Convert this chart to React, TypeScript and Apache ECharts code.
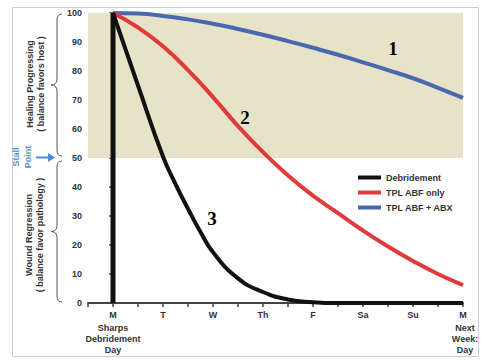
import React, { useEffect, useRef } from "react";
import * as echarts from "echarts";

const dayLabels = ["M", "T", "W", "Th", "F", "Sa", "Su", "M"];
const halfDays = [0, 0.5, 1, 1.5, 2, 2.5, 3, 3.5, 4, 4.5, 5, 5.5, 6, 6.5, 7];
const blueValues = [100, 99.8, 99, 97.8, 96.3, 94.5, 92.5, 90.3, 88, 85.6, 83, 80.3, 77.5, 74.2, 70.7];
const redValues = [100, 95, 88.5, 80.3, 71, 61, 52, 44, 37, 31, 25, 19.5, 14.5, 10, 6.2];
const blackDays = [0, 0.5, 1, 1.25, 1.5, 1.75, 2, 2.5, 3, 3.5, 4, 4.5, 5, 6, 7];
const blackValues = [100, 75, 50.5, 41, 32.5, 24.5, 17.5, 8.5, 3.8, 1.2, 0.3, 0, 0, 0, 0];
const seriesNames = ["Debridement", "TPL ABF only", "TPL ABF + ABX"];
const yTicks = [0, 10, 20, 30, 40, 50, 60, 70, 80, 90, 100];

function bracePath(xs: number, y0: number, y1: number): string {
  const xr = xs + 5;
  const tip = xs - 6;
  const ym = (y0 + y1) / 2;
  const r = 6;
  return `M${xr},${y0} Q${xs},${y0} ${xs},${y0 + r} L${xs},${ym - r} Q${xs},${ym} ${tip},${ym} Q${xs},${ym} ${xs},${ym + r} L${xs},${y1 - r} Q${xs},${y1} ${xr},${y1}`;
}

echarts.graphic.registerShape("braceTop", echarts.graphic.extendPath(bracePath(57, 14, 156), {}));
echarts.graphic.registerShape("braceBottom", echarts.graphic.extendPath(bracePath(57, 161, 302), {}));

const FONT = "'Liberation Sans', Arial, sans-serif";

export default function App() {
  const ref = useRef<HTMLDivElement>(null);
  useEffect(() => {
    document.body.style.margin = "0";
    if (!ref.current) return;
    const chart = echarts.init(ref.current, null, { renderer: "svg" });
    const zip = (xs: number[], ys: number[]) => xs.map((x, i) => [x, ys[i]]);
    const txt = { fontFamily: FONT, fontWeight: "bold" as const, fontSize: 9, fill: "#333" };
    chart.setOption({
      animation: false,
      backgroundColor: "#fff",
      grid: { left: 88, right: 26, top: 13, bottom: 58, containLabel: false },
      xAxis: {
        type: "value",
        min: -0.5,
        max: 7,
        interval: 0.5,
        splitLine: { show: false },
        axisLine: { show: true, lineStyle: { color: "#444", width: 2 } },
        axisTick: { show: true, length: 4, lineStyle: { color: "#444", width: 1.5 } },
        axisLabel: {
          showMaxLabel: true,
          showMinLabel: true,
          margin: 7,
          fontFamily: FONT,
          fontWeight: "bold",
          fontSize: 9,
          color: "#333",
          formatter: (v: number) => (Number.isInteger(v) && v >= 0 ? dayLabels[v] : ""),
        },
      },
      yAxis: {
        type: "value",
        min: 0,
        max: 100,
        interval: 10,
        splitLine: { show: false },
        axisLine: { show: true, lineStyle: { color: "#444", width: 2 } },
        axisTick: { show: true, length: 4, lineStyle: { color: "#444", width: 1.5 } },
        axisLabel: {
          margin: 6,
          fontFamily: FONT,
          fontWeight: "bold",
          fontSize: 9,
          color: "#333",
          formatter: (v: number) => (yTicks.includes(v) ? String(v) : ""),
        },
      },
      legend: {
        data: seriesNames,
        orient: "vertical",
        left: 353,
        top: 168,
        icon: "rect",
        itemWidth: 23,
        itemHeight: 4,
        itemGap: 6,
        textStyle: { fontFamily: FONT, fontWeight: "bold", fontSize: 9, color: "#333" },
      },
      series: [
        {
          name: "TPL ABF + ABX",
          type: "line",
          data: zip(halfDays, blueValues),
          smooth: true,
          symbol: "none",
          color: "#4a68b0",
          lineStyle: { width: 4, color: "#4a68b0" },
          markArea: {
            silent: true,
            itemStyle: { color: "#e7e3c8" },
            data: [[{ yAxis: 50 }, { yAxis: 100 }]],
          },
          z: 3,
        },
        {
          name: "TPL ABF only",
          type: "line",
          data: zip(halfDays, redValues),
          smooth: true,
          symbol: "none",
          color: "#e23a3a",
          lineStyle: { width: 4, color: "#e23a3a" },
          z: 4,
        },
        {
          name: "Debridement",
          type: "line",
          data: zip(blackDays, blackValues),
          smooth: true,
          symbol: "none",
          color: "#111",
          lineStyle: { width: 4, color: "#111" },
          z: 5,
        },
        {
          name: "debridementDay",
          type: "line",
          data: [[0, 0], [0, 100]],
          symbol: "none",
          color: "#111",
          lineStyle: { width: 5, color: "#111" },
          z: 6,
        },
      ],
      graphic: [
        { type: "rect", silent: true, shape: { x: 12.5, y: 7.5, width: 466, height: 349 }, style: { fill: "none", stroke: "#c9cfdb", lineWidth: 1 } },
        { type: "braceTop", x: 0, y: 0, style: { fill: "none", stroke: "#555", lineWidth: 1 } },
        { type: "braceBottom", x: 0, y: 0, style: { fill: "none", stroke: "#555", lineWidth: 1 } },
        {
          type: "text", x: 35.5, y: 84, rotation: Math.PI / 2,
          style: { ...txt, text: "Healing Progressing\n( balance favors host )", align: "center", verticalAlign: "middle", lineHeight: 11 },
        },
        {
          type: "text", x: 34.5, y: 235, rotation: Math.PI / 2,
          style: { ...txt, text: "Wound Regression\n( balance favor pathology )", align: "center", verticalAlign: "middle", lineHeight: 11 },
        },
        {
          type: "text", x: 21.5, y: 157, rotation: Math.PI / 2,
          style: { ...txt, fill: "#5b93d3", text: "Stall\nPoint", align: "center", verticalAlign: "middle", lineHeight: 12 },
        },
        { type: "line", shape: { x1: 36, y1: 157.5, x2: 50, y2: 157.5 }, style: { stroke: "#4a8ad0", lineWidth: 2 } },
        { type: "polygon", shape: { points: [[55, 157.5], [48, 153], [48, 162]] }, style: { fill: "#4a8ad0" } },
        { type: "text", x: 113, y: 322, style: { ...txt, text: "Sharps\nDebridement\nDay", align: "center", verticalAlign: "top", lineHeight: 11 } },
        { type: "text", x: 465, y: 322, style: { ...txt, text: "Next\nWeek:\nDay", align: "center", verticalAlign: "top", lineHeight: 11 } },
        { type: "text", x: 393, y: 48, z: 10, style: { text: "1", fontFamily: "'Liberation Serif', serif", fontWeight: "bold", fontSize: 19, fill: "#000", align: "center", verticalAlign: "middle" } },
        { type: "text", x: 245, y: 117, z: 10, style: { text: "2", fontFamily: "'Liberation Serif', serif", fontWeight: "bold", fontSize: 19, fill: "#000", align: "center", verticalAlign: "middle" } },
        { type: "text", x: 212, y: 218, z: 10, style: { text: "3", fontFamily: "'Liberation Serif', serif", fontWeight: "bold", fontSize: 19, fill: "#000", align: "center", verticalAlign: "middle" } },
      ],
    });
    return () => chart.dispose();
  }, []);
  return <div ref={ref} style={{ width: 489, height: 361 }} />;
}
